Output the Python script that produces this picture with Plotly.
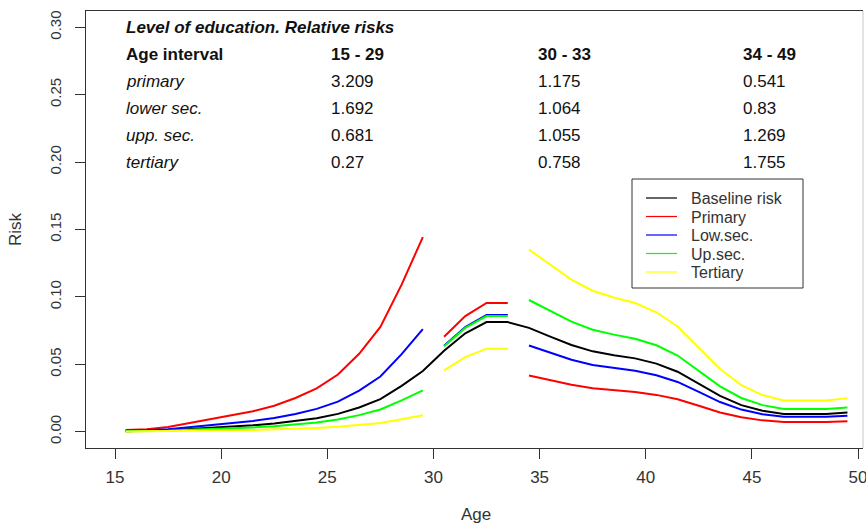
import plotly.graph_objects as go

# ---------------- data ----------------
ages_15_29 = [15.5, 16.5, 17.5, 18.5, 19.5, 20.5, 21.5, 22.5, 23.5, 24.5, 25.5, 26.5, 27.5, 28.5, 29.5]
ages_30_33 = [30.5, 31.5, 32.5, 33.5]
ages_34_49 = [34.5, 35.5, 36.5, 37.5, 38.5, 39.5, 40.5, 41.5, 42.5, 43.5, 44.5, 45.5, 46.5, 47.5, 48.5, 49.5]

baseline_15_29 = [0.0004, 0.0006, 0.0011, 0.0020, 0.0028, 0.0037, 0.0047, 0.0060, 0.0078, 0.0100,
                  0.0132, 0.0180, 0.0242, 0.0340, 0.0450]
baseline_30_33 = [0.0600, 0.0730, 0.0813, 0.0813]
baseline_34_49 = [0.0770, 0.0705, 0.0643, 0.0596, 0.0567, 0.0544, 0.0505, 0.0445, 0.0355, 0.0265,
                  0.0197, 0.0155, 0.0132, 0.0132, 0.0132, 0.0142]

primary_15_29 = [0.0013, 0.0019, 0.0035, 0.0064, 0.0090, 0.0119, 0.0151, 0.0193, 0.0250, 0.0321,
                 0.0424, 0.0578, 0.0777, 0.1091, 0.1444]
primary_30_33 = [0.0705, 0.0858, 0.0955, 0.0955]
primary_34_49 = [0.0417, 0.0381, 0.0348, 0.0322, 0.0307, 0.0294, 0.0273, 0.0241, 0.0192, 0.0143,
                 0.0107, 0.0084, 0.0071, 0.0071, 0.0071, 0.0077]

lowsec_15_29 = [0.0007, 0.0010, 0.0019, 0.0034, 0.0047, 0.0063, 0.0080, 0.0102, 0.0132, 0.0169,
                0.0223, 0.0305, 0.0409, 0.0575, 0.0761]
lowsec_30_33 = [0.0638, 0.0777, 0.0865, 0.0865]
lowsec_34_49 = [0.0639, 0.0585, 0.0534, 0.0495, 0.0471, 0.0452, 0.0419, 0.0369, 0.0295, 0.0220,
                0.0164, 0.0129, 0.0110, 0.0110, 0.0110, 0.0118]

upsec_15_29 = [0.0003, 0.0004, 0.0007, 0.0014, 0.0019, 0.0025, 0.0032, 0.0041, 0.0053, 0.0068,
               0.0090, 0.0123, 0.0165, 0.0232, 0.0306]
upsec_30_33 = [0.0633, 0.0770, 0.0858, 0.0858]
upsec_34_49 = [0.0977, 0.0895, 0.0816, 0.0756, 0.0720, 0.0690, 0.0641, 0.0565, 0.0450, 0.0336,
               0.0250, 0.0197, 0.0168, 0.0168, 0.0168, 0.0180]

tertiary_15_29 = [0.0001, 0.0002, 0.0003, 0.0005, 0.0008, 0.0010, 0.0013, 0.0016, 0.0021, 0.0027,
                  0.0036, 0.0049, 0.0065, 0.0092, 0.0122]
tertiary_30_33 = [0.0455, 0.0553, 0.0616, 0.0616]
tertiary_34_49 = [0.1351, 0.1237, 0.1128, 0.1046, 0.0995, 0.0955, 0.0886, 0.0781, 0.0623, 0.0465,
                  0.0346, 0.0272, 0.0232, 0.0232, 0.0232, 0.0249]

series_names = ["Baseline risk", "Primary", "Low.sec.", "Up.sec.", "Tertiary"]
series_colors = ["#000000", "#FF0000", "#0000FF", "#00FF00", "#FFFF00"]

x_ticks = [15, 20, 25, 30, 35, 40, 45, 50]
y_ticks = [0.00, 0.05, 0.10, 0.15, 0.20, 0.25, 0.30]
y_tick_labels = ["0.00", "0.05", "0.10", "0.15", "0.20", "0.25", "0.30"]

x_title = "Age"
y_title = "Risk"

table_title = "Level of education. Relative risks"
table_corner = "Age interval"
interval_labels = ["15 - 29", "30 - 33", "34 - 49"]
level_labels = ["primary", "lower sec.", "upp. sec.", "tertiary"]
rr_15_29 = [3.209, 1.692, 0.681, 0.27]
rr_30_33 = [1.175, 1.064, 1.055, 0.758]
rr_34_49 = [0.541, 0.83, 1.269, 1.755]

# ---------------- figure ----------------
FONT = "Liberation Sans, Arial, Helvetica, sans-serif"
W, H = 866, 524
L, R, T, B = 86, 863, 11, 448


def px(xp):
    return (xp - L) / (R - L)


def py(yp):
    return (B - yp) / (B - T)


def gapped(a, b, c):
    return a + [None] + b + [None] + c


fig = go.Figure()

fig.add_trace(go.Scatter(
    x=ages_15_29 + ages_30_33 + ages_34_49,
    y=baseline_15_29 + baseline_30_33 + baseline_34_49,
    mode="lines", name=series_names[0], showlegend=False,
    line=dict(color=series_colors[0], width=2)))

colored = [
    (primary_15_29, primary_30_33, primary_34_49),
    (lowsec_15_29, lowsec_30_33, lowsec_34_49),
    (upsec_15_29, upsec_30_33, upsec_34_49),
    (tertiary_15_29, tertiary_30_33, tertiary_34_49),
]
for i, (a, b, c) in enumerate(colored, start=1):
    fig.add_trace(go.Scatter(
        x=gapped(ages_15_29, ages_30_33, ages_34_49),
        y=gapped(a, b, c),
        mode="lines", name=series_names[i], showlegend=False, connectgaps=False,
        line=dict(color=series_colors[i], width=2)))

annotations = []
TXT = dict(family=FONT, size=17, color="#111111")


def add_text(x, y, text):
    annotations.append(dict(x=x, y=y, xref="x", yref="y", text=text, showarrow=False,
                            xanchor="left", yanchor="middle", font=TXT))


add_text(15.42, 0.30, "<b><i>" + table_title + "</i></b>")
add_text(15.42, 0.28, "<b>" + table_corner + "</b>")
col_x = [25.1, 34.83, 44.5]
for cx, lab in zip(col_x, interval_labels):
    add_text(cx, 0.28, "<b>" + lab + "</b>")
row_y = [0.26, 0.24, 0.22, 0.20]
for ry, lab in zip(row_y, level_labels):
    add_text(15.42, ry, "<i>" + lab + "</i>")
for cx, col in zip(col_x, [rr_15_29, rr_30_33, rr_34_49]):
    for ry, v in zip(row_y, col):
        add_text(cx, ry, str(v))

# axis titles
annotations.append(dict(x=px(476), y=py(514), xref="paper", yref="paper", text=x_title,
                        showarrow=False, xanchor="center", yanchor="middle",
                        font=dict(family=FONT, size=17, color="#333333")))
annotations.append(dict(x=px(16), y=py(229), xref="paper", yref="paper", text=y_title,
                        showarrow=False, xanchor="center", yanchor="middle", textangle=-90,
                        font=dict(family=FONT, size=17, color="#333333")))

# legend box drawn to match the reference layout
LEG_FS = 16
leg_top, leg_first, leg_step = 179, 198, 18.5
shapes = [
    dict(type="line", xref="paper", yref="paper", x0=1, x1=1, y0=0, y1=1,
         line=dict(color="#c8c8c8", width=1)),
    dict(type="rect", xref="paper", yref="paper", x0=px(632), x1=px(803), y0=py(288), y1=py(leg_top),
         line=dict(color="#333333", width=1), fillcolor="white", layer="above"),
]
for k, (name, col) in enumerate(zip(series_names, series_colors)):
    yy = leg_first + k * leg_step
    shapes.append(dict(type="line", xref="paper", yref="paper", x0=px(646), x1=px(677),
                       y0=py(yy), y1=py(yy), line=dict(color=col, width=1.2), layer="above"))
    annotations.append(dict(x=px(689), y=py(yy), xref="paper", yref="paper", text=name,
                            showarrow=False, xanchor="left", yanchor="middle", height=18,
                            valign="middle",
                            font=dict(family=FONT, size=LEG_FS, color="#333333")))

fig.update_layout(
    width=W, height=H, autosize=False,
    margin=dict(l=L, r=W - R, t=T, b=H - B, pad=0, autoexpand=False),
    paper_bgcolor="white", plot_bgcolor="white",
    font=dict(family=FONT, size=17, color="#333333"),
    annotations=annotations, shapes=shapes,
    showlegend=False,
)
fig.update_xaxes(
    range=[13.634, 50.233], tickvals=x_ticks, ticks="outside", ticklen=10, tickcolor="#333333",
    showline=True, linecolor="#333333", linewidth=1, mirror=True, showgrid=False, zeroline=False,
    tickfont=dict(family=FONT, size=17, color="#333333"), ticklabelstandoff=4, automargin=False,
    ticklabeloverflow="allow",
)
fig.update_yaxes(
    range=[-0.0121, 0.3121], tickvals=y_ticks, ticktext=y_tick_labels, tickangle=-90,
    ticks="outside", ticklen=10, tickcolor="#333333",
    showline=True, linecolor="#333333", linewidth=1, mirror=False, showgrid=False, zeroline=False,
    tickfont=dict(family=FONT, size=15, color="#333333"), ticklabelstandoff=8, automargin=False,
)

fig.write_html("out.html", config={"displayModeBar": False},
               post_script="document.body.style.margin='0';document.body.style.padding='0';")
